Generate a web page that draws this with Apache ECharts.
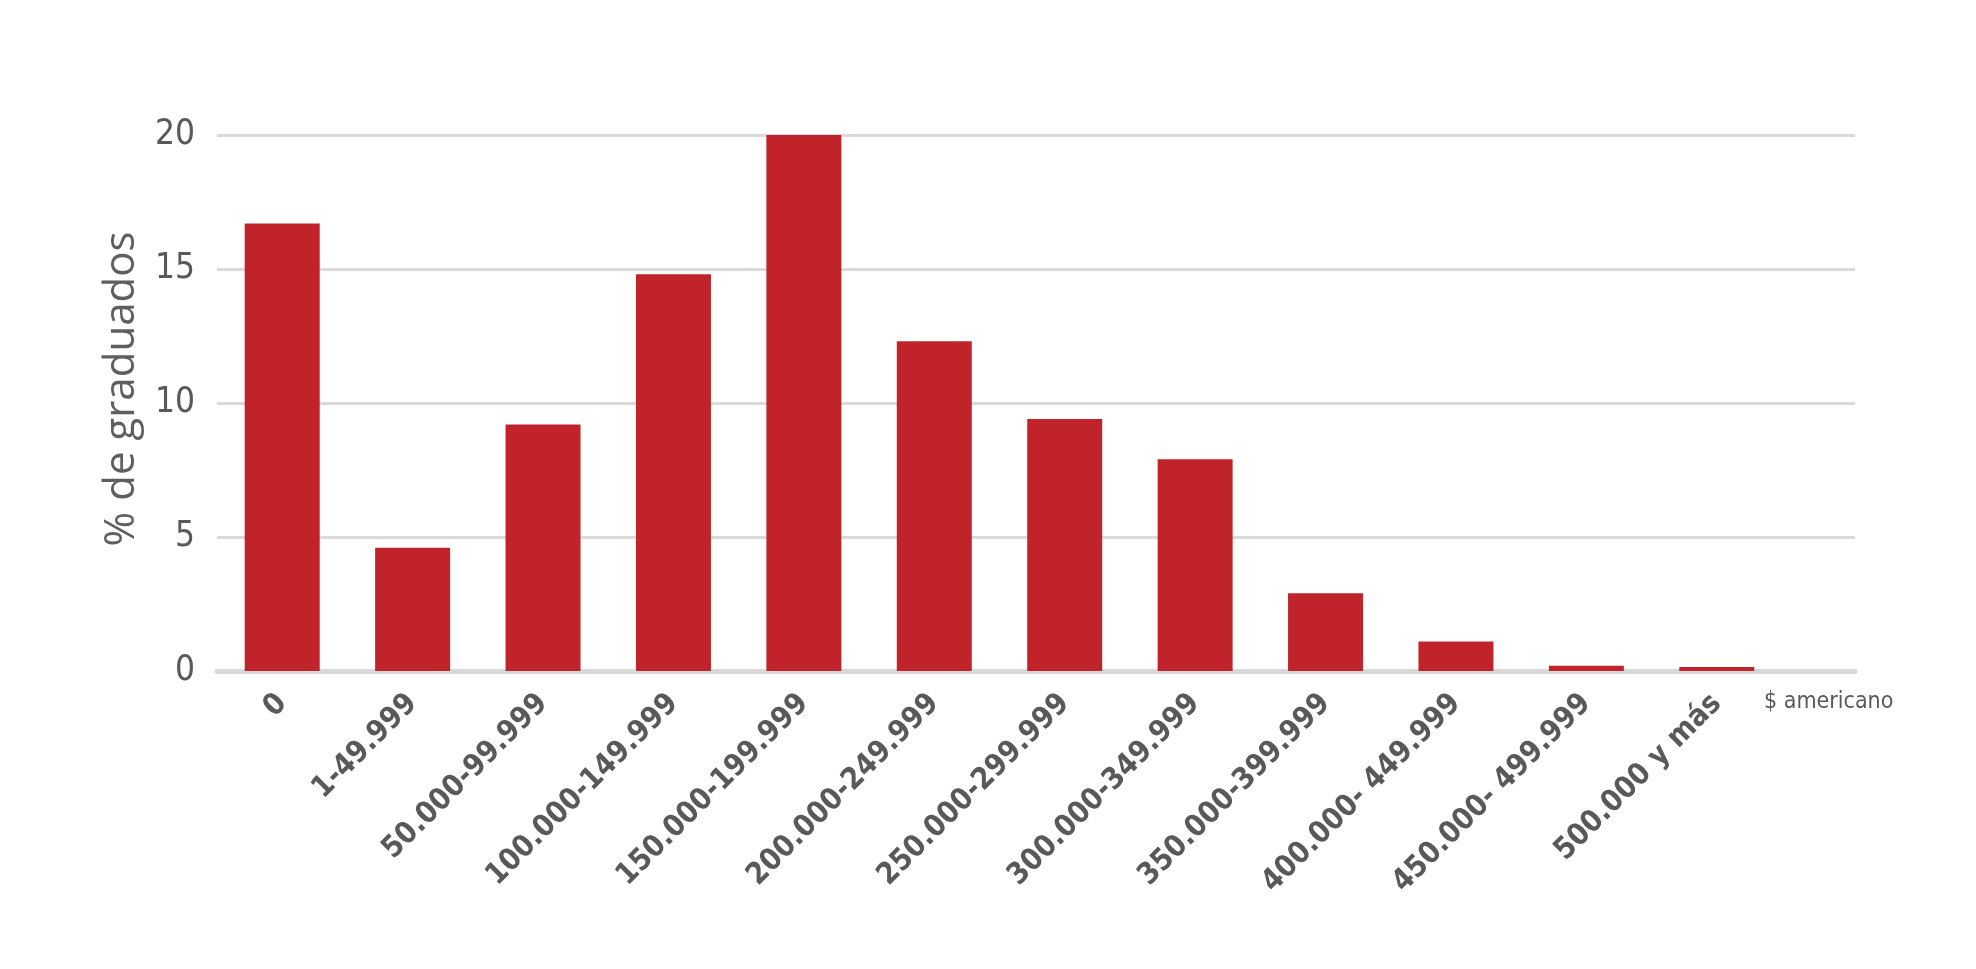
<!DOCTYPE html>
<html>
<head>
<meta charset="utf-8">
<title>% de graduados</title>
<script src="https://cdn.jsdelivr.net/npm/echarts@6/dist/echarts.min.js"></script>
<style>
  html, body { margin: 0; padding: 0; background: #fff; }
  #chart { width: 1976px; height: 969px; }
</style>
</head>
<body>
<div id="chart"></div>
<script>
// rangos de ingreso ($ americano)
var categories = ['0', '1-49.999', '50.000-99.999', '100.000-149.999', '150.000-199.999',
  '200.000-249.999', '250.000-299.999', '300.000-349.999', '350.000-399.999',
  '400.000- 449.999', '450.000- 499.999', '500.000 y más'];
// % de graduados
var values = [16.7, 4.6, 9.2, 14.8, 20.0, 12.3, 9.4, 7.9, 2.9, 1.1, 0.2, 0.15];
var yTicks = [0, 5, 10, 15, 20];

var narrow = "'DejaVu Sans Condensed', 'Liberation Sans Narrow', 'DejaVu Sans', sans-serif";
var textGray = '#595959';

var chart = echarts.init(document.getElementById('chart'));

var option = {
  backgroundColor: '#fff',
  animation: false,
  grid: [
    // grid de barras (12 categorias)
    { left: 217, top: 135, bottom: 298, width: 1565 },
    // grid de fondo: lineas y eje y, un poco mas ancho
    { left: 217, top: 135, bottom: 298, right: 121 }
  ],
  xAxis: [{
    type: 'category',
    gridIndex: 0,
    data: categories,
    axisLine: { show: false },
    axisTick: { show: false },
    axisLabel: {
      interval: 0,
      rotate: 45,
      margin: 28,
      color: textGray,
      fontFamily: narrow,
      fontWeight: 'bold',
      fontSize: 30
    },
    name: '$ americano',
    nameLocation: 'end',
    nameGap: -18,
    nameTextStyle: {
      color: textGray,
      fontFamily: narrow,
      fontSize: 23,
      align: 'left',
      verticalAlign: 'top',
      padding: [20, 0, 0, 0]
    }
  }, {
    type: 'value',
    gridIndex: 1,
    min: 0,
    max: 1,
    axisLine: { show: true, lineStyle: { color: '#d9d9d9', width: 5 } },
    axisTick: { show: false },
    axisLabel: { show: false },
    splitLine: { show: false }
  }],
  yAxis: [{
    type: 'value',
    gridIndex: 0,
    min: 0,
    max: 20,
    show: false
  }, {
    type: 'value',
    gridIndex: 1,
    min: 0,
    max: 20,
    interval: 5,
    axisLine: { show: false },
    axisTick: { show: false },
    axisLabel: {
      margin: 22,
      color: textGray,
      fontFamily: narrow,
      fontSize: 35,
      formatter: function (v) { return yTicks.indexOf(v) >= 0 ? String(v) : ''; }
    },
    splitLine: { show: true, lineStyle: { color: '#dadada', width: 3 } },
    name: '% de graduados',
    nameLocation: 'middle',
    nameGap: 74,
    nameTextStyle: {
      color: '#5f5f5f',
      fontFamily: "'Open Sans', 'Noto Sans', sans-serif",
      fontSize: 42,
      padding: [0, 0, 0, 28]
    }
  }],
  series: [{
    type: 'bar',
    name: '% de graduados',
    xAxisIndex: 0,
    yAxisIndex: 0,
    data: values,
    barWidth: 75,
    z: 3,
    itemStyle: { color: '#c1232b' }
  }]
};

chart.setOption(option);
window.onresize = function () {
  chart.resize();
};
</script>
</body>
</html>
